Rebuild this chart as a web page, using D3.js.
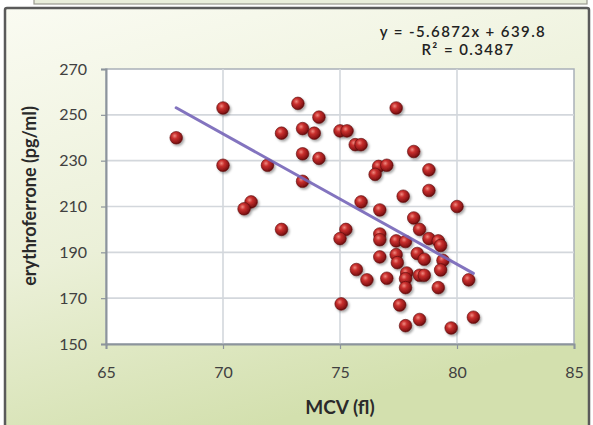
<!DOCTYPE html>
<html><head><meta charset="utf-8">
<script src="https://cdn.jsdelivr.net/npm/d3@7/dist/d3.min.js"></script>
<style>html,body{margin:0;padding:0;background:#fff;}svg{display:block;}</style>
</head><body>
<script>
// Data (MCV fl, erythroferrone pg/ml)
const mcv = [68.0,70.0,70.0,71.9,71.2,70.9,72.5,72.5,73.2,74.1,73.4,73.9,73.4,74.1,73.4,75.0,75.3,75.65,75.9,77.4,78.15,78.8,78.8,80.0,76.65,77.0,76.5,77.7,75.9,76.7,78.15,78.4,78.8,79.2,79.3,75.25,75.0,76.7,76.7,77.4,77.8,76.7,77.4,77.45,78.3,78.6,79.4,75.7,76.15,77.0,77.85,77.8,78.4,78.6,77.8,79.3,79.2,80.5,75.05,77.55,78.4,77.8,79.75,80.7];
const erfe = [240,253,228,228,212,209,242,200,255,249,244,242,233,231,221,243,243,237,237,253,234,226,217,210,227.5,228,224,214.5,212,208.5,205,200,196,195,193,200,196,198,195.5,195,194.7,188,189,185.5,189.5,187,186.5,182.5,178,178.7,181,178.5,180,180,174.6,182.3,174.6,178,167.5,167,160.7,158,157,161.7];
const xTicks = [65,70,75,80,85];
const yTicks = [150,170,190,210,230,250,270];
const trendSlope = -5.6872, trendIntercept = 639.8;
const trendRange = [68, 80.7];
const eqText = "y = -5.6872x + 639.8";
const r2Text = "R² = 0.3487";
const xTitle = "MCV (fl)";
const yTitle = "erythroferrone (pg/ml)";

const W = 593, H = 425;
const svg = d3.select("body").append("svg").attr("width", W).attr("height", H);
const defs = svg.append("defs");

const bg = defs.append("linearGradient").attr("id","bg").attr("x1","0").attr("y1","0").attr("x2","0.35").attr("y2","1");
bg.append("stop").attr("offset","0").attr("stop-color","#fafbf2");
bg.append("stop").attr("offset","0.55").attr("stop-color","#ebf0d8");
bg.append("stop").attr("offset","1").attr("stop-color","#d3e0ae");

const ball = defs.append("radialGradient").attr("id","ball").attr("cx","0.38").attr("cy","0.35").attr("r","0.65");
ball.append("stop").attr("offset","0").attr("stop-color","#f08a80");
ball.append("stop").attr("offset","0.35").attr("stop-color","#c9302e");
ball.append("stop").attr("offset","0.8").attr("stop-color","#921819");
ball.append("stop").attr("offset","1").attr("stop-color","#6a0c0c");

const sh = defs.append("filter").attr("id","sh").attr("x","-50%").attr("y","-50%").attr("width","200%").attr("height","200%");
sh.append("feDropShadow").attr("dx",1.5).attr("dy",1.8).attr("stdDeviation",1.2).attr("flood-color","#000").attr("flood-opacity",0.35);

// top strip (panel above)
svg.append("rect").attr("x",34).attr("y",-10).attr("width",553).attr("height",14)
  .attr("fill","#e9eedb").attr("stroke","#9a9a90").attr("stroke-width",1.2);

// chart frame
svg.append("rect").attr("x",5).attr("y",8).attr("width",584).attr("height",430)
  .attr("fill","url(#bg)").attr("stroke","#5a5a5a").attr("stroke-width",2.5).attr("rx",2);

const x = d3.scaleLinear().domain([65,85]).range([106,574]);
const y = d3.scaleLinear().domain([150,270]).range([344,69]);

// plot area
svg.append("rect").attr("x",x(65)).attr("y",y(270)).attr("width",x(85)-x(65)).attr("height",y(150)-y(270))
  .attr("fill","#ffffff").attr("stroke","#a9b0b8").attr("stroke-width",1.5);

// gridlines
svg.append("g").selectAll("line.gy").data(yTicks.slice(1,-1)).join("line")
  .attr("x1",x(65)).attr("x2",x(85)).attr("y1",d=>y(d)).attr("y2",d=>y(d))
  .attr("stroke","#d3d7dc").attr("stroke-width",1.6);
svg.append("g").selectAll("line.gx").data(xTicks.slice(1,-1)).join("line")
  .attr("y1",y(150)).attr("y2",y(270)).attr("x1",d=>x(d)).attr("x2",d=>x(d))
  .attr("stroke","#d3d7dc").attr("stroke-width",1.6);

// axes
const fontFam = "Lato, 'Open Sans', sans-serif";
const gx = svg.append("g").attr("transform",`translate(0,${y(150)})`)
  .call(d3.axisBottom(x).tickValues(xTicks).tickSize(5).tickPadding(18));
const gy = svg.append("g").attr("transform",`translate(${x(65)},0)`)
  .call(d3.axisLeft(y).tickValues(yTicks).tickSize(5).tickPadding(14));
[gx,gy].forEach(g=>{
  g.select(".domain").attr("stroke","#8c949c").attr("stroke-width",2);
  g.selectAll(".tick line").attr("stroke","#8c949c").attr("stroke-width",1.2);
  g.selectAll(".tick text").attr("fill","#404040").attr("font-size",16).attr("font-family",fontFam);
});

// points
svg.append("g").selectAll("circle").data(mcv.map((m,i)=>[m,erfe[i]])).join("circle")
  .attr("cx",d=>x(d[0])).attr("cy",d=>y(d[1])).attr("r",6.3)
  .attr("fill","url(#ball)").attr("stroke","#5e0b0b").attr("stroke-width",0.6)
  .attr("filter","url(#sh)");

// trend line
svg.append("line")
  .attr("x1",x(trendRange[0])).attr("y1",y(trendSlope*trendRange[0]+trendIntercept))
  .attr("x2",x(trendRange[1])).attr("y2",y(trendSlope*trendRange[1]+trendIntercept))
  .attr("stroke","#7565b8").attr("stroke-width",3).attr("stroke-opacity",0.9).attr("stroke-linecap","round");

// equation
svg.append("text").attr("x",463).attr("y",37).attr("text-anchor","middle")
  .attr("font-family",fontFam).attr("font-size",15).attr("font-weight",600).attr("letter-spacing",1.4).attr("fill","#222").text(eqText);
svg.append("text").attr("x",468).attr("y",55).attr("text-anchor","middle")
  .attr("font-family",fontFam).attr("font-size",15).attr("font-weight",600).attr("letter-spacing",1.4).attr("fill","#222").text(r2Text);

// axis titles
svg.append("text").attr("x",x(75)).attr("y",414).attr("text-anchor","middle")
  .attr("font-family",fontFam).attr("font-size",19).attr("font-weight",700).attr("fill","#2a2a2a").text(xTitle);
svg.append("text").attr("transform",`translate(36,196) rotate(-90)`).attr("text-anchor","middle")
  .attr("font-family",fontFam).attr("font-size",18).attr("font-weight",700).attr("fill","#2a2a2a").text(yTitle);
</script>
</body></html>
